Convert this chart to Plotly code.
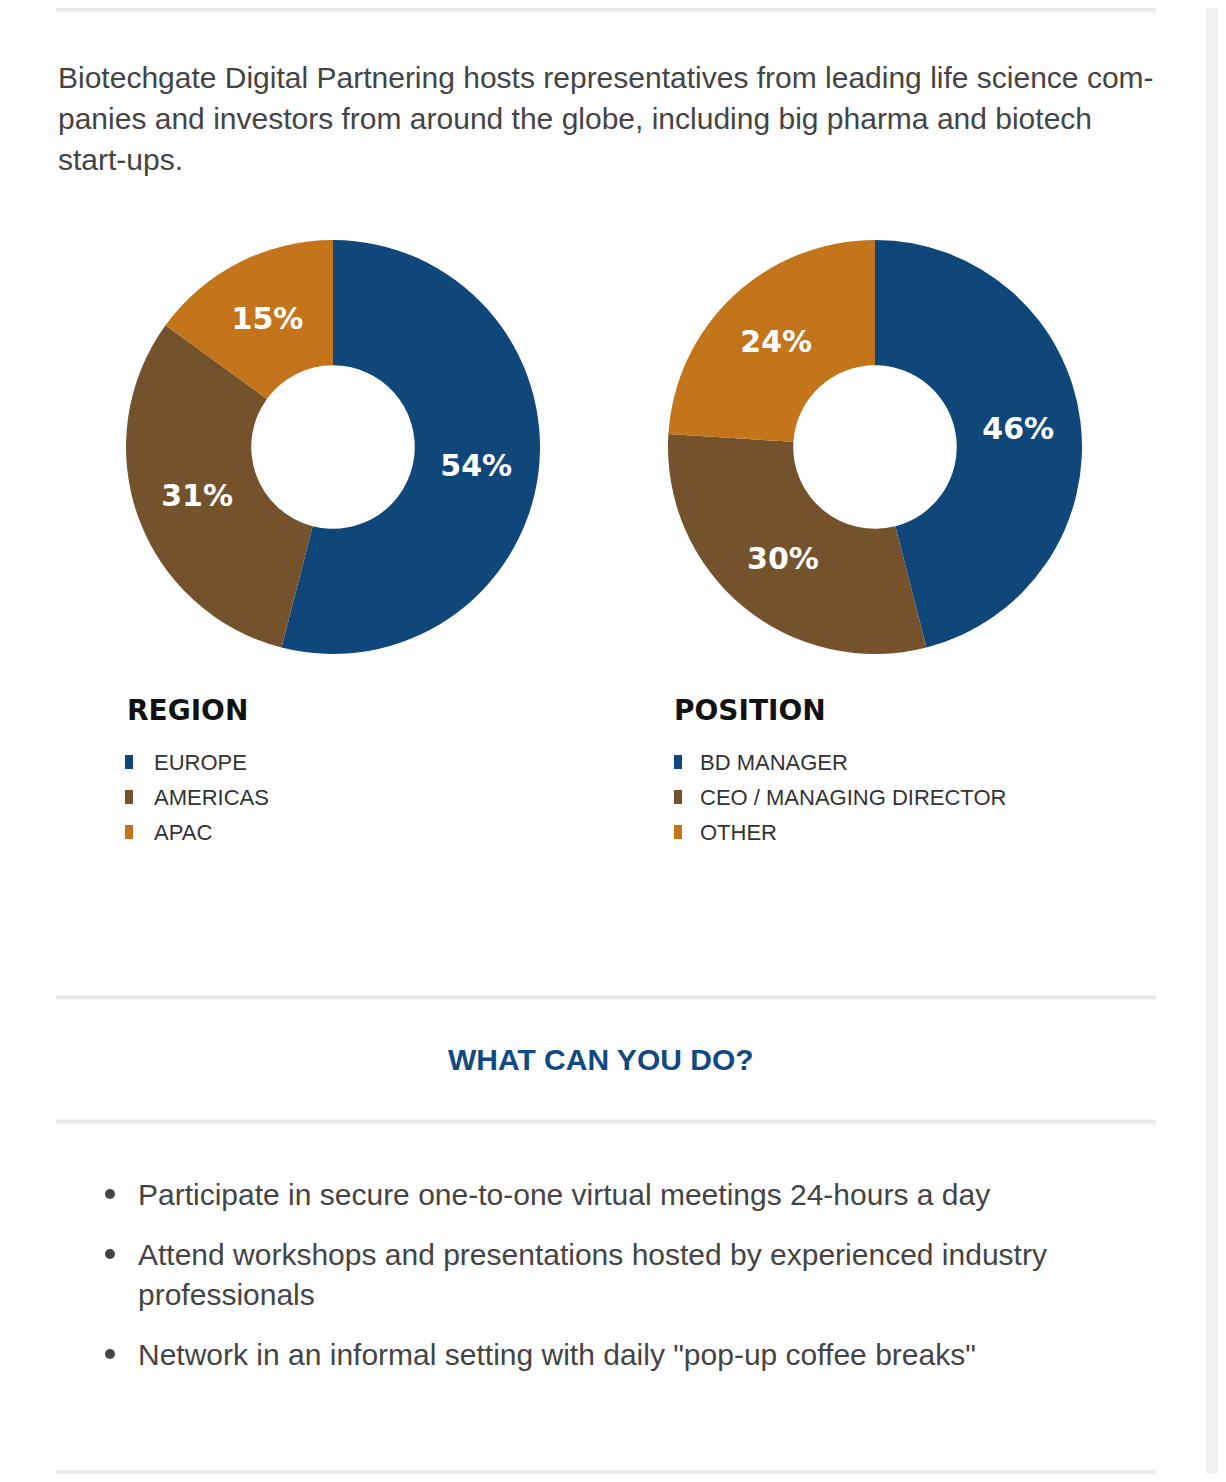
import plotly.graph_objects as go

# chart data
region_labels = ["EUROPE", "AMERICAS", "APAC"]
region_values = [54, 31, 15]
position_labels = ["BD MANAGER", "CEO / MANAGING DIRECTOR", "OTHER"]
position_values = [46, 30, 24]
slice_colors = ["#10477a", "#74522b", "#c4751c"]

intro_lines = [
    "Biotechgate Digital Partnering hosts representatives from leading life science com-",
    "panies and investors from around the globe, including big pharma and biotech",
    "start-ups.",
]
heading = "WHAT CAN YOU DO?"
bullet_items = [
    ["Participate in secure one-to-one virtual meetings 24-hours a day"],
    ["Attend workshops and presentations hosted by experienced industry",
     "professionals"],
    ['Network in an informal setting with daily "pop-up coffee breaks"'],
]

# the page body keeps its default 8px margin, so the figure is drawn 8px in
OFF = 8
W, H = 1226 - OFF, 1482 - 2 * OFF
TEXT = "#444444"


def fx(px):
    return (px - OFF) / W


def fy(py):
    return 1 - (py - OFF) / H


fig = go.Figure()

# the two donuts
R = 207
donuts = [
    ("REGION", region_labels, region_values, 333, 447, 125, 125, 152),
    ("POSITION", position_labels, position_values, 875, 447, 672, 674, 698),
]
for title, labels, values, cx, cy, title_x, sw_x, lab_x in donuts:
    fig.add_trace(go.Pie(
        labels=labels,
        values=values,
        hole=0.395,
        sort=False,
        direction="clockwise",
        rotation=0,
        marker=dict(colors=slice_colors, line=dict(width=0)),
        texttemplate="%{value}%",
        textposition="inside",
        insidetextorientation="horizontal",
        textfont=dict(family="DejaVu Sans", size=30, color="white", weight="bold"),
        hoverinfo="label+percent",
        domain=dict(x=[fx(cx - R), fx(cx + R)], y=[fy(cy + R), fy(cy - R)]),
        showlegend=False,
    ))

shapes = []
annotations = []

# white page card on grey background
shapes.append(dict(type="rect", xref="paper", yref="paper",
                   x0=0, x1=fx(1206), y0=0, y1=1,
                   fillcolor="white", line=dict(width=0), layer="below"))

# horizontal rules (top and bottom ones sit at the figure edges)
for ry in [9.5, 997.5, 1121.5, 1472]:
    shapes.append(dict(type="rect", xref="paper", yref="paper",
                       x0=fx(56), x1=fx(1156), y0=fy(ry + 2), y1=fy(ry - 2),
                       fillcolor="#e9e9e9", line=dict(width=0), layer="below"))

# intro paragraph
for i, line in enumerate(intro_lines):
    annotations.append(dict(text=line, xref="paper", yref="paper",
                            x=fx(56), y=fy(78 + i * 40.5), xanchor="left", yanchor="middle",
                            showarrow=False,
                            font=dict(family="Liberation Sans", size=30, color=TEXT)))

# legends under each donut
for title, labels, values, cx, cy, title_x, sw_x, lab_x in donuts:
    annotations.append(dict(text=title, xref="paper", yref="paper",
                            x=fx(title_x), y=fy(710), xanchor="left", yanchor="middle",
                            showarrow=False,
                            font=dict(family="DejaVu Sans", size=28, color="#111111",
                                      weight="bold")))
    for j, lab in enumerate(labels):
        ly = 762 + j * 35
        shapes.append(dict(type="rect", xref="paper", yref="paper",
                           x0=fx(sw_x), x1=fx(sw_x + 8), y0=fy(ly + 7), y1=fy(ly - 7),
                           fillcolor=slice_colors[j], line=dict(width=0)))
        annotations.append(dict(text=lab, xref="paper", yref="paper",
                                x=fx(lab_x), y=fy(ly), xanchor="left", yanchor="middle",
                                showarrow=False,
                                font=dict(family="Liberation Sans", size=22, color="#333333")))

# section heading
annotations.append(dict(text=heading, xref="paper", yref="paper",
                        x=fx(601), y=fy(1059), xanchor="center", yanchor="middle",
                        showarrow=False,
                        font=dict(family="Liberation Sans", size=30, color="#104a80",
                                  weight="bold")))

# bullet list
by = 1194
for item in bullet_items:
    shapes.append(dict(type="circle", xref="paper", yref="paper",
                       x0=fx(105), x1=fx(115), y0=fy(by + 5), y1=fy(by - 5),
                       fillcolor=TEXT, line=dict(width=0)))
    for k, line in enumerate(item):
        annotations.append(dict(text=line, xref="paper", yref="paper",
                                x=fx(136), y=fy(by + k * 40), xanchor="left", yanchor="middle",
                                showarrow=False,
                                font=dict(family="Liberation Sans", size=30, color=TEXT)))
    by += 40 * (len(item) - 1) + 60

fig.update_layout(
    width=W,
    height=H,
    margin=dict(l=0, r=0, t=0, b=0),
    paper_bgcolor="#f2f2f2",
    plot_bgcolor="white",
    shapes=shapes,
    annotations=annotations,
    showlegend=False,
)

fig.write_html("out.html")
